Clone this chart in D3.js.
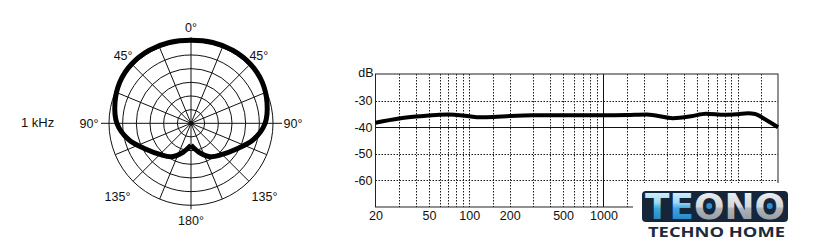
<!DOCTYPE html>
<html>
<head>
<meta charset="utf-8">
<script src="https://cdn.jsdelivr.net/npm/d3@7"></script>
<style>
  html, body { margin: 0; padding: 0; background: #fff; }
  svg { display: block; }
  text { font-family: "Liberation Sans", Arial, Helvetica, sans-serif; fill: #111; }
</style>
</head>
<body>
<div id="chart"></div>
<script>
// polar pattern at 1 kHz (dB relative to outer ring)
const POLAR_ANGLES = [-180, -165, -150, -135, -120, -105, -90, -75, -60, -45, -30, -15, 0, 15, 30, 45, 60, 75, 90, 105, 120, 135, 150, 165, 180];
const POLAR_DB = [-22, -19.1, -15.9, -13.9, -11, -6.5, -2.9, -1.2, 0.1, 0.7, 0.8, 0.6, 0.4, 0.6, 0.8, 0.7, 0.1, -1.2, -2.9, -6.5, -11, -13.9, -15.9, -19.1, -22];
const POLAR_RINGS = [-25, -20, -15, -10, -5, 0];
const POLAR_LABELS = [0, 45, 90, 135, 180, -45, -90, -135];

// frequency response
const FREQS = [20, 30, 40, 50, 60, 70, 80, 100, 120, 150, 200, 300, 500, 1000, 1500, 2100, 3300, 4500, 5800, 8000, 10000, 12000, 13500, 16000, 20000];
const LEVELS = [-38.3, -36.7, -36.0, -35.6, -35.3, -35.2, -35.4, -35.9, -36.3, -36.2, -35.8, -35.5, -35.5, -35.5, -35.4, -35.2, -36.6, -35.9, -34.9, -35.3, -35.1, -34.8, -35.0, -37.0, -40.0];
const FREQ_TICKS = [20, 50, 100, 200, 500, 1000];
const FREQ_GRID = [30, 40, 50, 60, 70, 80, 90, 100, 150, 200, 300, 400, 500, 600, 700, 800, 900, 1000, 1500, 2000, 3000, 4000, 5000, 6000, 7000, 8000, 9000, 10000, 15000];
const DB_TICKS = [-30, -40, -50, -60];

const W = 815, H = 247;
const svg = d3.select('#chart').append('svg')
  .attr('width', W).attr('height', H)
  .attr('viewBox', `0 0 ${W} ${H}`);

svg.append('rect').attr('width', W).attr('height', H).attr('fill', '#fff');

// ---------- polar plot ----------
const cx = 191, cy = 123.3, R = 82;
const r = d3.scaleLinear().domain([-30, 0]).range([0, R]);
const polar = svg.append('g').attr('transform', `translate(${cx},${cy})`);

polar.selectAll('circle.ring')
  .data(POLAR_RINGS)
  .enter().append('circle')
  .attr('class', 'ring')
  .attr('r', d => r(d))
  .attr('fill', 'none')
  .attr('stroke', '#111')
  .attr('stroke-width', 1);

const spokes = d3.range(0, 360, 22.5).filter(a => a % 90 !== 0);
polar.selectAll('line.spoke')
  .data(spokes)
  .enter().append('line')
  .attr('class', 'spoke')
  .attr('x1', 0).attr('y1', 0)
  .attr('x2', d => R * Math.sin(d * Math.PI / 180))
  .attr('y2', d => -R * Math.cos(d * Math.PI / 180))
  .attr('stroke', '#111')
  .attr('stroke-width', 1);

// main axes run a little past the outer ring
polar.append('line').attr('x1', 0).attr('x2', 0).attr('y1', -R - 4).attr('y2', R + 4)
  .attr('stroke', '#111').attr('stroke-width', 1);
polar.append('line').attr('x1', -R - 8).attr('x2', R + 9).attr('y1', 0).attr('y2', 0)
  .attr('stroke', '#111').attr('stroke-width', 1);
polar.append('circle').attr('r', 2.4).attr('fill', '#111');

const polarLine = d3.lineRadial()
  .angle((d, i) => POLAR_ANGLES[i] * Math.PI / 180)
  .radius(d => r(d))
  .curve(d3.curveCatmullRom.alpha(0.5));

polar.append('path')
  .datum(POLAR_DB)
  .attr('d', polarLine)
  .attr('fill', 'none')
  .attr('stroke', '#000')
  .attr('stroke-width', 5)
  .attr('stroke-linejoin', 'miter')
  .attr('stroke-linecap', 'butt');

const labelRadius = d => {
  const a = Math.abs(d);
  return R + 14 + (a === 90 ? 6 : a === 135 ? 8 : a === 180 ? 1 : 0);
};
polar.selectAll('text.angle')
  .data(POLAR_LABELS)
  .enter().append('text')
  .attr('class', 'angle')
  .attr('x', d => labelRadius(d) * Math.sin(d * Math.PI / 180))
  .attr('y', d => -labelRadius(d) * Math.cos(d * Math.PI / 180))
  .attr('dy', '0.36em')
  .attr('text-anchor', 'middle')
  .style('font-size', '12.5px')
  .text(d => Math.abs(d) + '°');

svg.append('text')
  .attr('x', 21).attr('y', 122)
  .attr('dy', '0.36em')
  .style('font-size', '13px')
  .text('1 kHz');

// ---------- frequency response ----------
const x = d3.scaleLog().domain([20, 20000]).range([375.5, 778]);
const y = d3.scaleLinear().domain([-70, -20]).range([207, 74]);
const fr = svg.append('g');

fr.selectAll('line.vgrid')
  .data(FREQ_GRID)
  .enter().append('line')
  .attr('class', 'vgrid')
  .attr('x1', d => Math.round(x(d)) + 0.5).attr('x2', d => Math.round(x(d)) + 0.5)
  .attr('y1', y(-20)).attr('y2', y(-70))
  .attr('stroke', d => d === 1000 ? '#111' : '#1a1a1a')
  .attr('stroke-width', 1)
  .attr('stroke-dasharray', d => d === 1000 ? null : '1.5,1.5');

fr.selectAll('line.hgrid')
  .data(DB_TICKS)
  .enter().append('line')
  .attr('class', 'hgrid')
  .attr('x1', x(20)).attr('x2', x(20000))
  .attr('y1', d => Math.round(y(d)) + 0.5).attr('y2', d => Math.round(y(d)) + 0.5)
  .attr('stroke', d => d === -40 ? '#111' : '#1a1a1a')
  .attr('stroke-width', 1)
  .attr('stroke-dasharray', d => d === -40 ? null : '1.5,1.5');

fr.append('rect')
  .attr('x', x(20)).attr('y', y(-20))
  .attr('width', x(20000) - x(20)).attr('height', y(-70) - y(-20))
  .attr('fill', 'none')
  .attr('stroke', '#222')
  .attr('stroke-width', 1);

const yAxis = fr.append('g')
  .attr('transform', `translate(${x(20)},0)`)
  .call(d3.axisLeft(y).tickValues(DB_TICKS).tickFormat(d => String(d)).tickSize(0).tickPadding(3));
const xAxis = fr.append('g')
  .attr('transform', `translate(0,${y(-70)})`)
  .call(d3.axisBottom(x).tickValues(FREQ_TICKS).tickFormat(d => String(d)).tickSize(0).tickPadding(4));
[yAxis, xAxis].forEach(g => {
  g.select('.domain').remove();
  g.selectAll('text')
    .style('font-size', '12.5px')
    .style('font-family', '"Liberation Sans", Arial, sans-serif')
    .attr('fill', '#111');
});

fr.append('text')
  .attr('x', x(20) - 2).attr('y', 72.5)
  .attr('dy', '0.36em')
  .attr('text-anchor', 'end')
  .style('font-size', '12.5px')
  .text('dB');

const respLine = d3.line()
  .x((d, i) => x(FREQS[i]))
  .y(d => y(d))
  .curve(d3.curveMonotoneX);

fr.append('path')
  .datum(LEVELS)
  .attr('d', respLine)
  .attr('fill', 'none')
  .attr('stroke', '#000')
  .attr('stroke-width', 4)
  .attr('stroke-linejoin', 'round');

// ---------- watermark logo ----------
const logo = svg.append('g');
logo.append('rect')
  .attr('x', 633).attr('y', 183)
  .attr('width', W - 633).attr('height', H - 183)
  .attr('fill', '#fff');

const defs = svg.append('defs');
const gBlue = defs.append('linearGradient').attr('id', 'g-blue').attr('x1', 0).attr('y1', 0).attr('x2', 0).attr('y2', 1);
[['0%', '#f4fbff'], ['40%', '#9bdaf7'], ['55%', '#3aa6e0'], ['100%', '#1d73b4']]
  .forEach(s => gBlue.append('stop').attr('offset', s[0]).attr('stop-color', s[1]));
const gSilver = defs.append('linearGradient').attr('id', 'g-silver').attr('x1', 0).attr('y1', 0).attr('x2', 0).attr('y2', 1);
[['0%', '#f7f7f7'], ['50%', '#d3d6da'], ['55%', '#aeb3b9'], ['100%', '#8a9098']]
  .forEach(s => gSilver.append('stop').attr('offset', s[0]).attr('stop-color', s[1]));

// dark plate behind the letters
logo.append('rect')
  .attr('x', 642).attr('y', 191)
  .attr('width', 146).attr('height', 31)
  .attr('rx', 4)
  .attr('fill', '#15253a');

const brand = logo.append('text')
  .attr('x', 645).attr('y', 219)
  .attr('textLength', 140)
  .attr('lengthAdjust', 'spacingAndGlyphs')
  .style('font-family', '"DejaVu Sans", sans-serif')
  .style('font-weight', '700')
  .style('font-size', '36px')
  .attr('stroke', '#15253a')
  .attr('stroke-width', 2)
  .attr('stroke-linejoin', 'round')
  .attr('paint-order', 'stroke');
brand.append('tspan').style('fill', 'url(#g-blue)').text('TE');
brand.append('tspan').style('fill', 'url(#g-silver)').text('ONO');

// blue dots in the O's
[2, 4].forEach(i => {
  const box = brand.node().getExtentOfChar(i);
  logo.append('circle')
    .attr('cx', box.x + box.width / 2)
    .attr('cy', 219 - 13)
    .attr('r', 3.6)
    .attr('fill', '#2f8fd0')
    .attr('stroke', '#15253a')
    .attr('stroke-width', 1.2);
});

logo.append('text')
  .attr('x', 648).attr('y', 237)
  .attr('textLength', 137)
  .attr('lengthAdjust', 'spacingAndGlyphs')
  .style('font-family', '"Open Sans", "DejaVu Sans", sans-serif')
  .style('font-weight', '700')
  .style('font-size', '15px')
  .style('fill', '#1c2b3c')
  .text('TECHNO HOME');
</script>
</body>
</html>
